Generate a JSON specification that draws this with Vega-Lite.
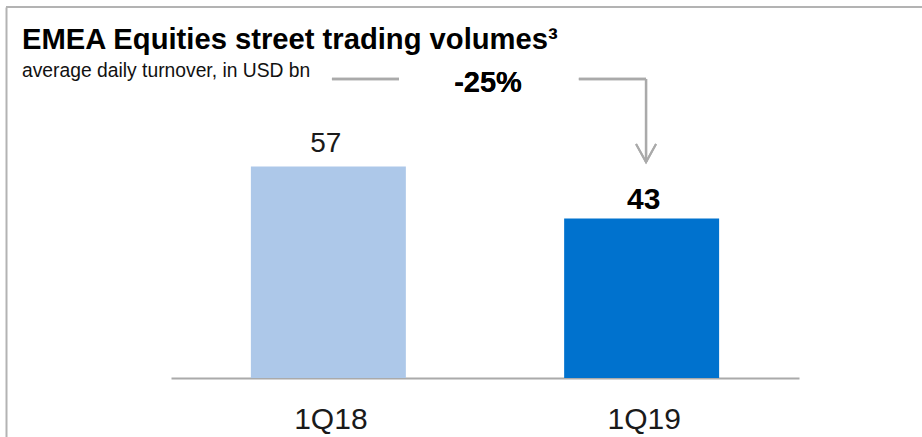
{
  "$schema": "https://vega.github.io/schema/vega-lite/v6.json",
  "width": 916,
  "height": 430,
  "autosize": {"type": "none"},
  "padding": {"left": 6, "top": 7, "right": 0, "bottom": 0},
  "background": "white",
  "config": {
    "view": {"stroke": null},
    "font": "Liberation Sans",
    "axisY": {"domainColor": "#b3b3b3", "domainWidth": 2, "ticks": false, "labels": false, "grid": false}
  },
  "title": {
    "text": "EMEA Equities street trading volumes³",
    "subtitle": "average daily turnover, in USD bn",
    "anchor": "start",
    "frame": "group",
    "orient": "top",
    "offset": -75,
    "dx": 16,
    "font": "Liberation Sans",
    "fontSize": 29.2,
    "fontWeight": "bold",
    "color": "#000000",
    "subtitleFont": "Liberation Sans",
    "subtitleFontSize": 19.3,
    "subtitleColor": "#111111",
    "subtitlePadding": 6.5
  },
  "datasets": {
    "volumes": [
      {"quarter": "1Q18", "value": 57},
      {"quarter": "1Q19", "value": 43}
    ]
  },
  "data": {"name": "volumes"},
  "resolve": {"scale": {"x": "independent"}},
  "layer": [
    {
      "layer": [
        {
          "mark": {"type": "bar"},
          "encoding": {
            "x": {
              "field": "quarter", "type": "nominal", "sort": null, "title": null,
              "scale": {"type": "band", "range": [165, 793], "paddingInner": 0.5053, "paddingOuter": 0.255},
              "axis": {"orient": "bottom", "offset": -59, "domainColor": "#aaaaaa", "domainWidth": 2, "ticks": false, "tickSize": 0, "labelFontSize": 30, "labelColor": "#1a1a1a", "labelFont": "Liberation Sans", "labelBaseline": "alphabetic", "labelPadding": 50, "labelOffset": 2.5, "labelAngle": 0, "grid": false}
            },
            "y": {"field": "value", "type": "quantitative", "title": null, "scale": {"domain": [-15.9, 100], "nice": false, "zero": false}},
            "color": {"field": "quarter", "type": "nominal", "scale": {"domain": ["1Q18", "1Q19"], "range": ["#adc8e9", "#0072ce"]}, "legend": null}
          }
        },
        {
          "transform": [{"filter": "datum.quarter == '1Q18'"}],
          "mark": {"type": "text", "fontSize": 28, "baseline": "alphabetic", "align": "center", "dy": -14.5, "dx": -2.5, "color": "#1a1a1a"},
          "encoding": {
            "x": {"field": "quarter", "type": "nominal", "sort": null, "title": null},
            "y": {"field": "value", "type": "quantitative", "title": null, "scale": {"domain": [-15.9, 100], "nice": false, "zero": false}},
            "text": {"field": "value", "type": "quantitative"}
          }
        },
        {
          "transform": [{"filter": "datum.quarter == '1Q19'"}],
          "mark": {"type": "text", "fontSize": 30, "fontWeight": "bold", "baseline": "alphabetic", "align": "center", "dy": -9, "dx": 2, "color": "#000000"},
          "encoding": {
            "x": {"field": "quarter", "type": "nominal", "sort": null, "title": null},
            "y": {"field": "value", "type": "quantitative", "title": null, "scale": {"domain": [-15.9, 100], "nice": false, "zero": false}},
            "text": {"field": "value", "type": "quantitative"}
          }
        }
      ]
    },
    {
      "layer": [
        {
          "mark": {"type": "rule", "color": "#b3b3b3", "strokeWidth": 2},
          "encoding": {
            "y": {"datum": 100, "type": "quantitative", "title": null, "scale": {"domain": [-15.9, 100], "nice": false, "zero": false}}
          }
        },
        {
          "mark": {"type": "rule", "color": "#aaaaaa", "strokeWidth": 2.3},
          "encoding": {
            "x": {"datum": 1.012, "type": "quantitative", "axis": null, "scale": {"domain": [0.4983, 2.5027], "range": [165, 793], "nice": false, "zero": false}},
            "x2": {"datum": 1.226},
            "y": {"datum": 80.6, "type": "quantitative", "title": null, "scale": {"domain": [-15.9, 100], "nice": false, "zero": false}}
          }
        },
        {
          "mark": {"type": "rule", "color": "#aaaaaa", "strokeWidth": 2.3},
          "encoding": {
            "x": {"datum": 1.80, "type": "quantitative", "axis": null, "scale": {"domain": [0.4983, 2.5027], "range": [165, 793], "nice": false, "zero": false}},
            "x2": {"datum": 2.0145},
            "y": {"datum": 80.6, "type": "quantitative", "title": null, "scale": {"domain": [-15.9, 100], "nice": false, "zero": false}}
          }
        },
        {
          "mark": {"type": "rule", "color": "#aaaaaa", "strokeWidth": 2.3},
          "encoding": {
            "x": {"datum": 2.0145, "type": "quantitative", "axis": null, "scale": {"domain": [0.4983, 2.5027], "range": [165, 793], "nice": false, "zero": false}},
            "y": {"datum": 80.6, "type": "quantitative", "title": null, "scale": {"domain": [-15.9, 100], "nice": false, "zero": false}},
            "y2": {"datum": 58.2}
          }
        },
        {
          "mark": {"type": "point", "shape": "M-1,-1.8L0,0L1,-1.8", "size": 400, "filled": false, "color": "#aaaaaa", "strokeWidth": 2, "opacity": 1},
          "encoding": {
            "x": {"datum": 2.0145, "type": "quantitative", "axis": null, "scale": {"domain": [0.4983, 2.5027], "range": [165, 793], "nice": false, "zero": false}},
            "y": {"datum": 58.2, "type": "quantitative", "title": null, "scale": {"domain": [-15.9, 100], "nice": false, "zero": false}}
          }
        },
        {
          "mark": {"type": "text", "text": "-25%", "fontSize": 29, "fontWeight": "bold", "align": "center", "baseline": "alphabetic", "color": "#000000"},
          "encoding": {
            "x": {"datum": 1.51, "type": "quantitative", "axis": null, "scale": {"domain": [0.4983, 2.5027], "range": [165, 793], "nice": false, "zero": false}},
            "y": {"datum": 77.07, "type": "quantitative", "title": null, "scale": {"domain": [-15.9, 100], "nice": false, "zero": false}}
          }
        }
      ]
    }
  ]
}
